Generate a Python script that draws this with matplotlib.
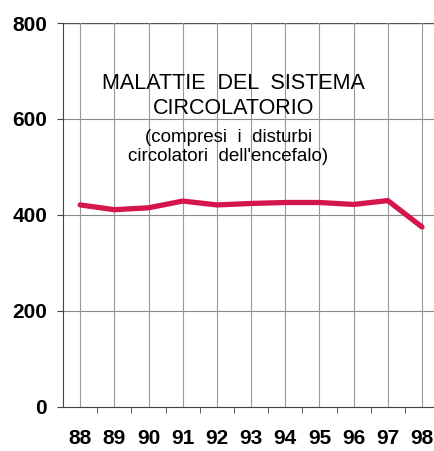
import numpy as np
import matplotlib.pyplot as plt

years = [88, 89, 90, 91, 92, 93, 94, 95, 96, 97, 98]
values = [421, 411, 415, 429, 421, 424, 426, 426, 422, 430, 375]
y_ticks = [0, 200, 400, 600, 800]
title_top = "MALATTIE  DEL  SISTEMA\nCIRCOLATORIO"
title_sub = "(compresi  i  disturbi\ncircolatori  dell'encefalo)"

plt.rcParams['font.family'] = ['Liberation Sans', 'DejaVu Sans']

fig = plt.figure(figsize=(4.35, 4.51), dpi=100)
ax = fig.add_axes([0.145, 0.0976, 0.855, 0.8514])

ax.plot(years, values, color='#d5164d', lw=3.8, solid_capstyle='round', zorder=3)

ax.set_xlim(87.5, 98.38)
ax.set_ylim(0, 800)
ax.set_yticks(y_ticks)
ax.set_xticks(years)
ax.set_xticklabels([str(y) for y in years])
ax.set_xticks(np.array(years[:-1]) + 0.5, minor=True)

# horizontal grid, top line a bit darker
for y in y_ticks[1:]:
    ax.axhline(y, color='#555555' if y == 800 else '#888888', lw=1.0 if y == 800 else 0.8, zorder=1)
for x in years:
    ax.axvline(x, color='#999999', lw=0.8, zorder=1)

for s in ['top', 'right']:
    ax.spines[s].set_visible(False)
ax.spines['left'].set_color('#444444')
ax.spines['bottom'].set_color('#444444')

ax.tick_params(axis='x', which='major', length=0, pad=16, labelsize=15)
ax.tick_params(axis='x', which='minor', length=4, direction='out', color='#444444')
ax.tick_params(axis='y', length=4.5, pad=7, direction='out', labelsize=15, color='#444444')
for lab in ax.get_xticklabels() + ax.get_yticklabels():
    lab.set_fontweight('bold')

ax.text(0.458, 0.81, title_top, transform=ax.transAxes, ha='center', va='center',
        fontsize=15.5, linespacing=1.3)
ax.text(0.444, 0.676, title_sub, transform=ax.transAxes, ha='center', va='center',
        fontsize=13.5, linespacing=1.15)

fig.savefig('out.png', dpi=100)
